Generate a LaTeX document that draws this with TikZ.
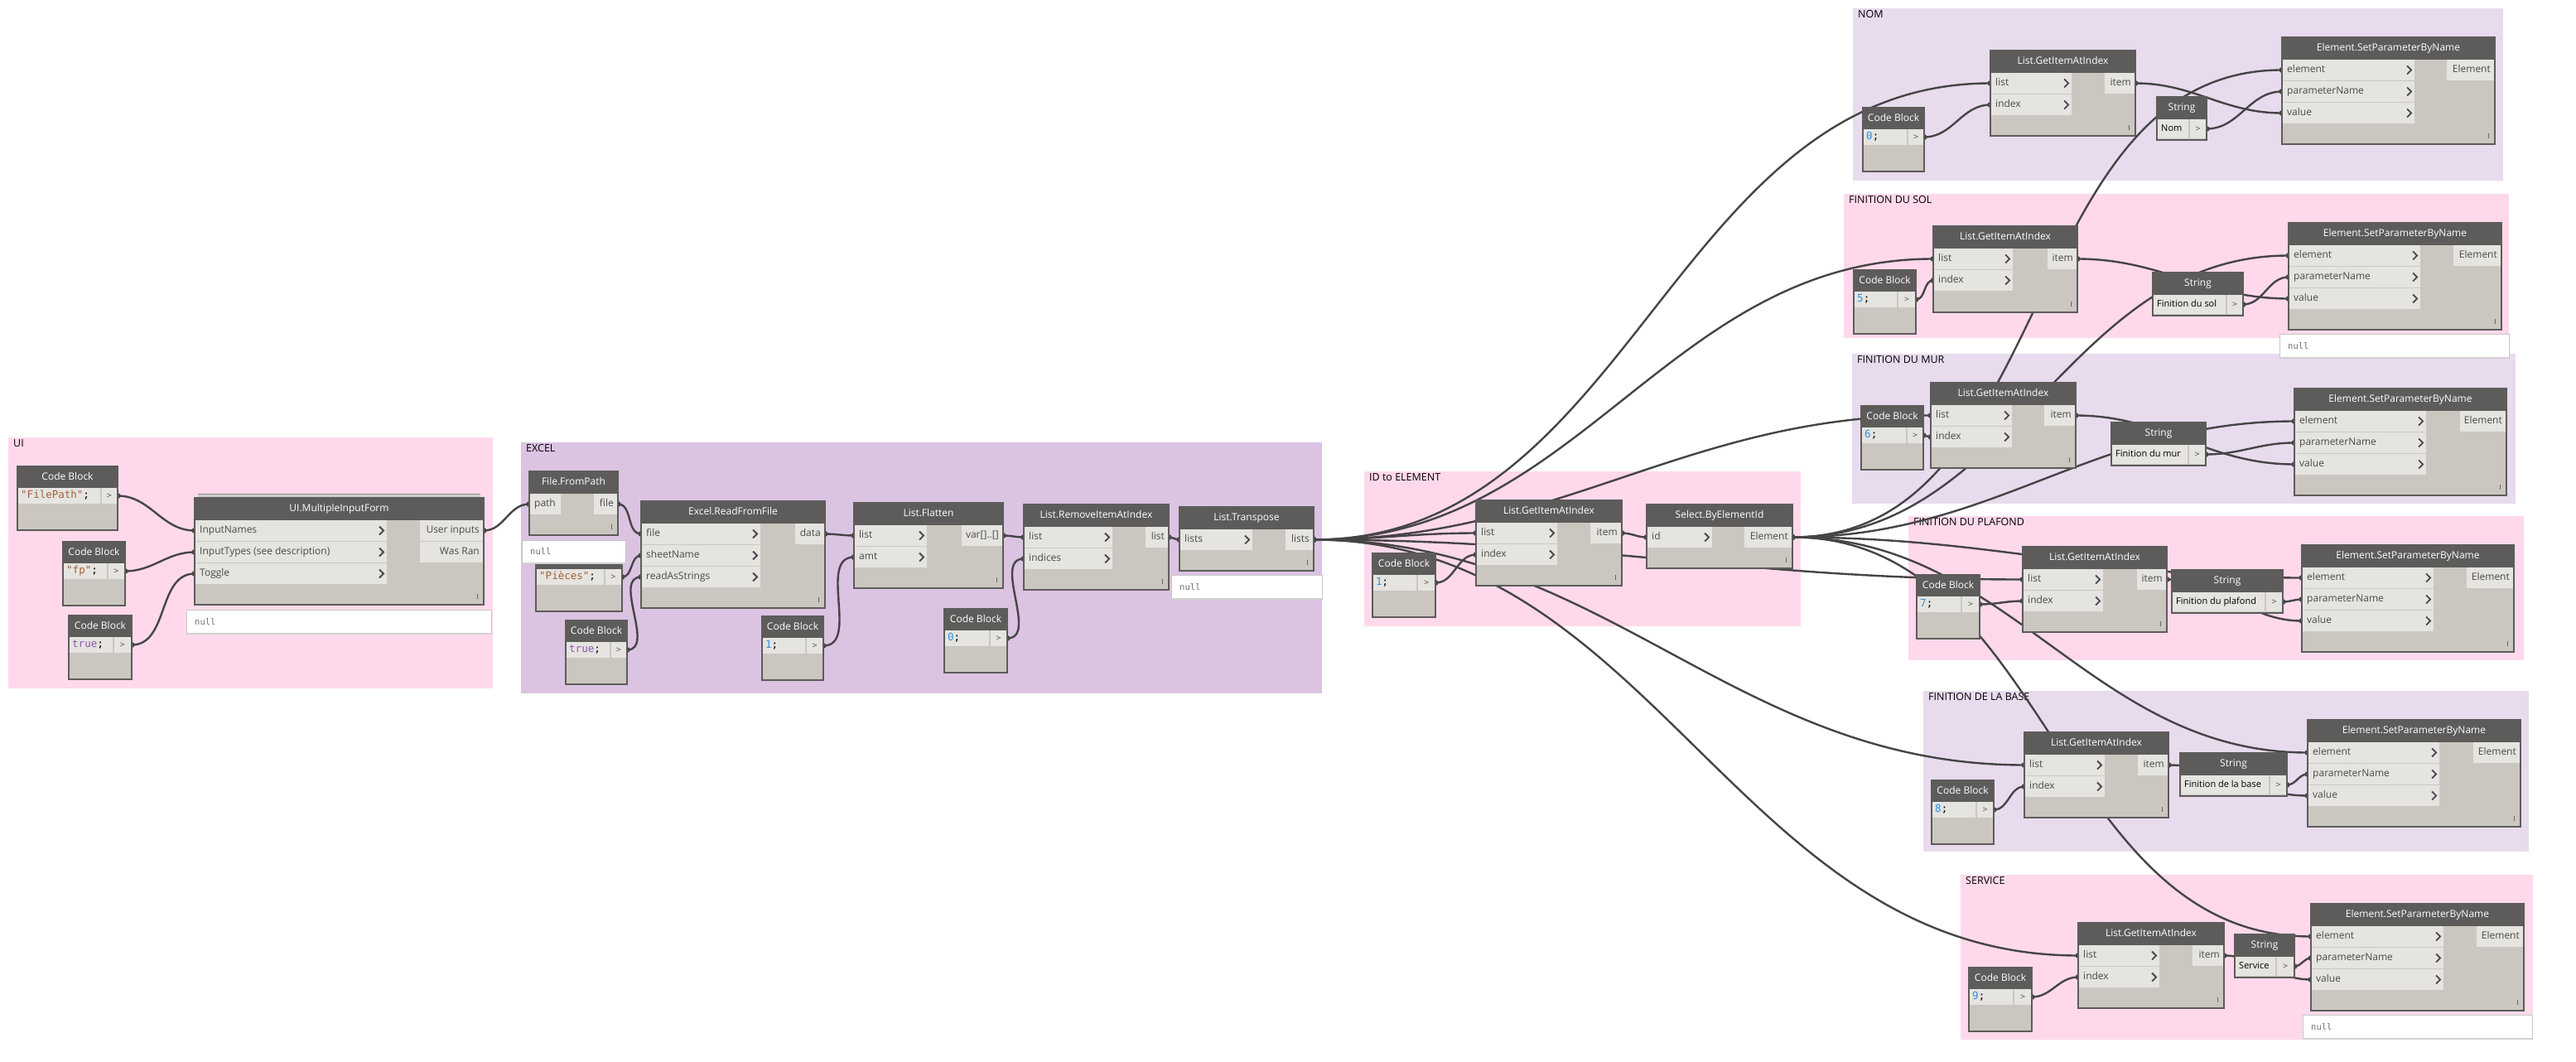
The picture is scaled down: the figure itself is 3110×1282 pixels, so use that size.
\documentclass[tikz,border=0pt]{standalone}
\usepackage{fontspec}
\setmainfont{Open Sans}
\newfontfamily\dynmono{DejaVu Sans Mono}
\usetikzlibrary{backgrounds,calc}
\pgfdeclarelayer{wires}
\pgfsetlayers{background,wires,main}

\definecolor{grppink}{HTML}{FFD9EB}
\definecolor{grpexcel}{HTML}{DBC3E2}
\definecolor{grplilac}{HTML}{E8DBEE}
\definecolor{ntitlec}{HTML}{5D5C5A}
\definecolor{nbodyc}{HTML}{CBC7C0}
\definecolor{nportc}{HTML}{E6E4E0}
\definecolor{nedgec}{HTML}{5D5C5A}
\definecolor{wirec}{HTML}{454545}
\definecolor{strc}{HTML}{A0623A}
\definecolor{numc}{HTML}{2F8FE0}
\definecolor{boolc}{HTML}{8E52B5}
\definecolor{portlabc}{HTML}{4A4A4A}

\newcommand{\dynfont}{\fontsize{12}{14}\selectfont}
\newcommand{\cbfont}{\dynmono\fontsize{12.5}{14}\selectfont}
\newcommand{\strtxtfont}{\fontsize{11}{13}\selectfont}
\newcommand{\nulltxtfont}{\dynmono\fontsize{10.5}{12}\selectfont}
\newcommand{\grplabfont}{\fontsize{12.5}{14}\selectfont}

% node body with title bar; sets the frame used by \dynin / \dynout
\newcommand{\dynnode}[7]{%
  \draw[nbody] (#2,#3) rectangle (#4,#5);
  \fill[ntitle] (#2,#3) rectangle (#4,#3+27);
  \node[ttext] (#1) at ({(#2+#4)/2},#3+13.5) {#7};
  \draw[lacemark] (#4-8,#5-13) -- (#4-8,#5-7);
  \def\dynx{#2}\def\dyny{#3}\def\dynxin{#6}\def\dynxr{#4}%
}
% input row: port name, row, label
\newcommand{\dynin}[3]{%
  \fill[nport] (\dynx+1,\dyny+27+26*#2) rectangle (\dynxin,\dyny+52+26*#2);
  \node[plabel, anchor=west] (#1-lab) at (\dynx+6,\dyny+39.5+26*#2) {#3};
  \draw[chevron] (\dynxin-9,\dyny+34.5+26*#2) -- (\dynxin-4,\dyny+39.5+26*#2) -- (\dynxin-9,\dyny+44.5+26*#2);
  \coordinate (#1) at (\dynx,\dyny+39.5+26*#2);
}
\newcommand{\dyninnc}[3]{%
  \fill[nport] (\dynx+1,\dyny+27+26*#2) rectangle (\dynxin,\dyny+52+26*#2);
  \node[plabel, anchor=west] (#1-lab) at (\dynx+6,\dyny+39.5+26*#2) {#3};
  \coordinate (#1) at (\dynx,\dyny+39.5+26*#2);
}
% output row: port name, row, x start, label
\newcommand{\dynout}[4]{%
  \fill[nport] (#3,\dyny+27+26*#2) rectangle (\dynxr-1,\dyny+52+26*#2);
  \node[plabel, anchor=east] (#1-lab) at (\dynxr-5,\dyny+39.5+26*#2) {#4};
  \coordinate (#1) at (\dynxr,\dyny+39.5+26*#2);
}
% code block: name, x1, y1, x2, x of port box, code
\newcommand{\dyncode}[6]{%
  \draw[nbody] (#2,#3) rectangle (#4,#3+77);
  \fill[ntitle] (#2,#3) rectangle (#4,#3+26);
  \node[ttext] (#1-t) at ({(#2+#4)/2},#3+13) {Code Block};
  \fill[nport] (#2+1,#3+26) rectangle (#4-1,#3+45);
  \draw[cbsep] (#5,#3+26) -- (#5,#3+45);
  \node[ctext, anchor=west] (#1) at (#2+4,#3+35.5) {#6};
  \node[cport] (#1-p) at ({(#5+#4)/2},#3+35.5) {>};
  \coordinate (#1-out) at (#4,#3+35.5);
}
% string node: name, x1, y1, x2, x of port box, text
\newcommand{\dynstr}[6]{%
  \draw[nbody] (#2,#3) rectangle (#4,#3+52);
  \fill[ntitle] (#2,#3) rectangle (#4,#3+27);
  \node[ttext] (#1-t) at ({(#2+#4)/2},#3+13.5) {String};
  \fill[nport] (#2+1,#3+27) rectangle (#4-1,#3+50);
  \draw[cbsep] (#5,#3+27) -- (#5,#3+50);
  \node[stext, anchor=west] (#1) at (#2+5,#3+38.5) {#6};
  \node[cport] (#1-p) at ({(#5+#4)/2},#3+38.5) {>};
  \coordinate (#1-out) at (#4,#3+38.5);
}
\newcommand{\dynnull}[5]{%
  \draw[nullst] (#2,#3) rectangle (#4,#5);
  \draw[black!18, line width=2pt] (#2,#5) -- (#4,#5);
  \node[nulltext, anchor=west] (#1) at (#2+10,{(#3+#5)/2}) {null};
}
\newcommand{\dyngroup}[7]{%
  \fill[#6] (#2,#3) rectangle (#4,#5);
  \node[glabel] (#1) at (#2+6,#3+2) {#7};
}
\newcommand{\dynwire}[2]{%
  \draw[wire] (#1) to[out=0,in=180] (#2);
  \fill[nub] (#1) circle (3.5pt);
  \fill[nub] (#2) circle (3.5pt);
}

\begin{document}
\begin{tikzpicture}[
  x=1pt, y=-1pt,
  nbody/.style={fill=nbodyc, draw=nedgec, line width=1.2pt},
  ntitle/.style={fill=ntitlec},
  nport/.style={fill=nportc},
  lacemark/.style={draw=black!60, line width=1pt},
  chevron/.style={draw=black!72, line width=1.8pt},
  cbsep/.style={draw=nbodyc, line width=1.2pt},
  ttext/.style={text=white, font=\dynfont, inner sep=0pt, text height=8.5pt, text depth=2.5pt},
  plabel/.style={text=portlabc, font=\dynfont, inner sep=0pt, text height=8.5pt, text depth=2.5pt},
  ctext/.style={font=\cbfont, inner sep=0pt, text height=9pt, text depth=2.5pt},
  cport/.style={font=\dynmono\fontsize{10}{12}\selectfont, text=black!60, inner sep=0pt},
  stext/.style={font=\strtxtfont, text=black, inner sep=0pt, text height=8pt, text depth=2.5pt},
  nullst/.style={fill=white, draw=black!22, line width=1pt},
  nulltext/.style={font=\nulltxtfont, text=black!55, inner sep=0pt},
  glabel/.style={anchor=north west, font=\grplabfont, inner sep=0pt},
  wire/.style={draw=wirec, line width=2.4pt},
  nub/.style={fill=wirec}
]
\useasboundingbox (0,0) rectangle (3110,1282);

% ---------------- groups ----------------
\begin{scope}[on background layer]
  \fill[white] (0,0) rectangle (3110,1282);
  \dyngroup{gui}{10}{528}{595}{831}{grppink}{UI}
  \dyngroup{gexcel}{629}{534}{1596}{837}{grpexcel}{EXCEL}
  \dyngroup{gid}{1647}{569}{2174}{756}{grppink}{ID to ELEMENT}
  \dyngroup{gnom}{2237}{10}{3022}{218}{grplilac}{NOM}
  \dyngroup{gsol}{2226}{234}{3029}{408}{grppink}{FINITION DU SOL}
  \dyngroup{gmur}{2236}{427}{3037}{608}{grplilac}{FINITION DU MUR}
  \dyngroup{gpla}{2304}{623}{3047}{797}{grppink}{FINITION DU PLAFOND}
  \dyngroup{gbas}{2322}{834}{3053}{1028}{grplilac}{FINITION DE LA BASE}
  \dyngroup{gsrv}{2367}{1056}{3058}{1255}{grppink}{SERVICE}
\end{scope}

% ---------------- UI ----------------
\dyncode{cbpath}{21}{563}{142}{122}{\textcolor{strc}{"FilePath"};}
\dyncode{cbtype}{76}{654}{151}{130}{\textcolor{strc}{"fp"};}
\dyncode{cbtog}{83}{743}{159}{137}{\textcolor{boolc}{true};}

\fill[ntitlec!30] (239,596) rectangle (580,601);
\draw[black!45, line width=0.8pt] (239,596) -- (580,596);
\dynnode{mif}{235}{601}{584}{730}{467}{UI.MultipleInputForm}
\dynin{mif-i1}{0}{InputNames}
\dynin{mif-i2}{1}{InputTypes (see description)}
\dynin{mif-i3}{2}{Toggle}
\dynout{mif-o1}{0}{507}{User inputs}
\dynout{mif-o2}{1}{507}{Was Ran}
\dynnull{mifnull}{225}{736}{593}{765}

% ---------------- EXCEL ----------------
\dynnode{ffp}{639}{569}{746}{646}{677}{File.FromPath}
\dyninnc{ffp-i1}{0}{path}
\dynout{ffp-o1}{0}{717}{file}
\dyncode{cbsheet}{647}{661}{751}{730}{\textcolor{strc}{"Pièces"};}
\dynnull{ffpnull}{630}{652}{755}{680}
\dyncode{cbras}{683}{749}{757}{737}{\textcolor{boolc}{true};}

\dynnode{rff}{774}{605}{996}{734}{918}{Excel.ReadFromFile}
\dynin{rff-i1}{0}{file}
\dynin{rff-i2}{1}{sheetName}
\dynin{rff-i3}{2}{readAsStrings}
\dynout{rff-o1}{0}{960}{data}

\dynnode{flat}{1031}{607}{1211}{710}{1119}{List.Flatten}
\dynin{flat-i1}{0}{list}
\dynin{flat-i2}{1}{amt}
\dynout{flat-o1}{0}{1161}{var[]..[]}
\dyncode{cbamt}{920}{744}{994}{973}{\textcolor{numc}{1};}

\dynnode{rem}{1236}{609}{1411}{712}{1343}{List.RemoveItemAtIndex}
\dynin{rem-i1}{0}{list}
\dynin{rem-i2}{1}{indices}
\dynout{rem-o1}{0}{1383}{list}
\dyncode{cbidx}{1140}{735}{1216}{1195}{\textcolor{numc}{0};}

\dynnode{trp}{1424}{612}{1586}{689}{1512}{List.Transpose}
\dynin{trp-i1}{0}{lists}
\dynout{trp-o1}{0}{1552}{lists}
\dynnull{trpnull}{1414}{694}{1596}{723}

% ---------------- ID to ELEMENT ----------------
\dyncode{cbone}{1657}{668}{1733}{1711}{\textcolor{numc}{1};}
\dynnode{gii0}{1782}{604}{1958}{707}{1880}{List.GetItemAtIndex}
\dynin{gii0-i1}{0}{list}
\dynin{gii0-i2}{1}{index}
\dynout{gii0-o1}{0}{1920}{item}
\dynnode{sel}{1988}{609}{2164}{686}{2067}{Select.ByElementId}
\dynin{sel-i1}{0}{id}
\dynout{sel-o1}{0}{2106}{Element}

% ---------------- NOM ----------------
\dyncode{cbk1}{2249}{130}{2323}{2303}{\textcolor{numc}{0};}
\dynnode{gii1}{2403}{61}{2578}{164}{2501}{List.GetItemAtIndex}
\dynin{gii1-i1}{0}{list}
\dynin{gii1-i2}{1}{index}
\dynout{gii1-o1}{0}{2541}{item}
\dynstr{str1}{2604}{117}{2664}{2643}{Nom}
\dynnode{spn1}{2755}{45}{3012}{174}{2915}{Element.SetParameterByName}
\dynin{spn1-i1}{0}{element}
\dynin{spn1-i2}{1}{parameterName}
\dynin{spn1-i3}{2}{value}
\dynout{spn1-o1}{0}{2954}{Element}

% ---------------- FINITION DU SOL ----------------
\dyncode{cbk2}{2238}{326}{2313}{2291}{\textcolor{numc}{5};}
\dynnode{gii2}{2334}{273}{2508}{377}{2430}{List.GetItemAtIndex}
\dynin{gii2-i1}{0}{list}
\dynin{gii2-i2}{1}{index}
\dynout{gii2-o1}{0}{2472}{item}
\dynstr{str2}{2599}{329}{2708}{2688}{Finition du sol}
\dynnode{spn2}{2763}{269}{3020}{398}{2922}{Element.SetParameterByName}
\dynin{spn2-i1}{0}{element}
\dynin{spn2-i2}{1}{parameterName}
\dynin{spn2-i3}{2}{value}
\dynout{spn2-o1}{0}{2962}{Element}
\dynnull{spn2null}{2752}{403}{3029}{432}

% ---------------- FINITION DU MUR ----------------
\dyncode{cbk3}{2247}{490}{2322}{2302}{\textcolor{numc}{6};}
\dynnode{gii3}{2331}{462}{2506}{565}{2429}{List.GetItemAtIndex}
\dynin{gii3-i1}{0}{list}
\dynin{gii3-i2}{1}{index}
\dynout{gii3-o1}{0}{2468}{item}
\dynstr{str3}{2549}{510}{2663}{2642}{Finition du mur}
\dynnode{spn3}{2770}{469}{3026}{598}{2929}{Element.SetParameterByName}
\dynin{spn3-i1}{0}{element}
\dynin{spn3-i2}{1}{parameterName}
\dynin{spn3-i3}{2}{value}
\dynout{spn3-o1}{0}{2970}{Element}

% ---------------- FINITION DU PLAFOND ----------------
\dyncode{cbk4}{2314}{694}{2390}{2368}{\textcolor{numc}{7};}
\dynnode{gii4}{2442}{660}{2616}{763}{2539}{List.GetItemAtIndex}
\dynin{gii4-i1}{0}{list}
\dynin{gii4-i2}{1}{index}
\dynout{gii4-o1}{0}{2580}{item}
\dynstr{str4}{2622}{688}{2756}{2735}{Finition du plafond}
\dynnode{spn4}{2779}{658}{3035}{787}{2938}{Element.SetParameterByName}
\dynin{spn4-i1}{0}{element}
\dynin{spn4-i2}{1}{parameterName}
\dynin{spn4-i3}{2}{value}
\dynout{spn4-o1}{0}{2978}{Element}

% ---------------- FINITION DE LA BASE ----------------
\dyncode{cbk5}{2332}{942}{2407}{2386}{\textcolor{numc}{8};}
\dynnode{gii5}{2444}{884}{2618}{987}{2541}{List.GetItemAtIndex}
\dynin{gii5-i1}{0}{list}
\dynin{gii5-i2}{1}{index}
\dynout{gii5-o1}{0}{2581}{item}
\dynstr{str5}{2632}{909}{2761}{2740}{Finition de la base}
\dynnode{spn5}{2786}{869}{3043}{998}{2945}{Element.SetParameterByName}
\dynin{spn5-i1}{0}{element}
\dynin{spn5-i2}{1}{parameterName}
\dynin{spn5-i3}{2}{value}
\dynout{spn5-o1}{0}{2986}{Element}

% ---------------- SERVICE ----------------
\dyncode{cbk6}{2377}{1168}{2453}{2431}{\textcolor{numc}{9};}
\dynnode{gii6}{2509}{1114}{2685}{1217}{2607}{List.GetItemAtIndex}
\dynin{gii6-i1}{0}{list}
\dynin{gii6-i2}{1}{index}
\dynout{gii6-o1}{0}{2647}{item}
\dynstr{str6}{2698}{1128}{2770}{2748}{Service}
\dynnode{spn6}{2790}{1091}{3047}{1220}{2950}{Element.SetParameterByName}
\dynin{spn6-i1}{0}{element}
\dynin{spn6-i2}{1}{parameterName}
\dynin{spn6-i3}{2}{value}
\dynout{spn6-o1}{0}{2990}{Element}
\dynnull{spn6null}{2780}{1225}{3057}{1254}

% ---------------- wires (behind the nodes) ----------------
\begin{pgfonlayer}{wires}
  \dynwire{cbpath-out}{mif-i1}
  \dynwire{cbtype-out}{mif-i2}
  \dynwire{cbtog-out}{mif-i3}
  \dynwire{mif-o1}{ffp-i1}
  \dynwire{ffp-o1}{rff-i1}
  \dynwire{cbsheet-out}{rff-i2}
  \dynwire{cbras-out}{rff-i3}
  \dynwire{rff-o1}{flat-i1}
  \dynwire{cbamt-out}{flat-i2}
  \dynwire{flat-o1}{rem-i1}
  \dynwire{cbidx-out}{rem-i2}
  \dynwire{rem-o1}{trp-i1}
  \foreach \k in {0,...,6} {\dynwire{trp-o1}{gii\k-i1}}
  \dynwire{cbone-out}{gii0-i2}
  \dynwire{gii0-o1}{sel-i1}
  \foreach \k in {1,...,6} {
    \dynwire{sel-o1}{spn\k-i1}
    \dynwire{cbk\k-out}{gii\k-i2}
    \dynwire{gii\k-o1}{spn\k-i3}
    \dynwire{str\k-out}{spn\k-i2}
  }
\end{pgfonlayer}

\end{tikzpicture}
\end{document}
